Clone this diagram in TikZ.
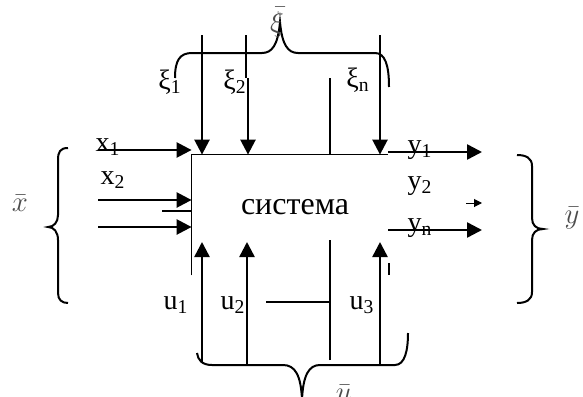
\documentclass[tikz,border=0pt]{standalone}
\usepackage{fontspec}
\setmainfont{Liberation Serif}
\usetikzlibrary{arrows.meta}
\begin{document}
\begin{tikzpicture}[x=0.5pt, y=-0.5pt,
   every node/.style={font=\fontsize{14}{16}\selectfont, inner sep=0pt},
   sig/.style={line width=1.25pt, -{Triangle[length=7.5pt,width=7.5pt]}},
   edge line/.style={line width=0.75pt},
   brace line/.style={line width=1pt},
   vec label/.style={font=\fontsize{15}{17}\selectfont, text=black!70}]
\useasboundingbox (0,0) rectangle (583,396);
\node[minimum width=98pt, minimum height=60pt] (sys) at (290,215) {};
\node[font=\fontsize{16}{18}\selectfont] (name) at (295,207) {система};
\draw[edge line] (sys.south west) -- (sys.north west) -- (sys.north east);
\coordinate (xi1) at (202,35);
\coordinate (xi2) at (248,78);
\coordinate (xin) at (380,35);
\coordinate (vt) at (330,78);
\draw[sig] (xi1) -- (xi1 |- sys.north);
\draw[sig] (xi2) -- (xi2 |- sys.north);
\draw[sig] (xin) -- (xin |- sys.north);
\draw[edge line] (246,35) -- (xi2 -| 246,0);
\draw[line width=1pt] (vt) -- (vt |- sys.north);
\coordinate (x1) at (98,150);
\coordinate (x2) at (98,200);
\coordinate (x3) at (98,227);
\coordinate (xs) at (162,211);
\draw[sig] (x1) -- (x1 -| sys.west);
\draw[sig] (x2) -- (x2 -| sys.west);
\draw[sig] (x3) -- (x3 -| sys.west);
\draw[edge line] (xs) -- (xs -| sys.west);
\coordinate (y1) at (482,152);
\coordinate (y2) at (482,203);
\coordinate (yn) at (482,230);
\draw[sig] (y1 -| sys.east) -- (y1);
\draw[sig] (yn -| sys.east) -- (yn);
\draw[line width=0.5pt, -{Triangle[length=4pt,width=4pt]}] ([xshift=-8pt]y2) -- (y2);
\coordinate (u1) at (202,363);
\coordinate (u2) at (247,365);
\coordinate (u3) at (380,365);
\coordinate (vb) at (330,360);
\coordinate (hb) at (266,302);
\draw[sig] (u1) -- ++(0,-121);
\draw[sig] (u2) -- ++(0,-123);
\draw[sig] (u3) -- ++(0,-123);
\draw[line width=1pt] (vb) -- ++(0,-120);
\draw[line width=1pt] (hb) -- (hb -| vb);
\draw[line width=1.2pt] (389,263) -- (389,275);
\draw[brace line] (175,78) .. controls (175,60) and (180,53) .. (192,53) -- (262,53)
   .. controls (272,53) and (278,45) .. (280,22) .. controls (282,45) and (288,53) .. (298,53)
   -- (375,53) .. controls (385,53) and (389,65) .. (389,87);
\draw[brace line] (68,148) .. controls (60,148) and (58,152) .. (58,160) -- (58,215)
   .. controls (58,222) and (54,227) .. (48,227) .. controls (54,227) and (58,232) .. (58,240)
   -- (58,293) .. controls (58,300) and (62,303) .. (68,303);
\draw[brace line] (517,155) .. controls (526,155) and (532,158) .. (532,166) -- (532,218)
   .. controls (532,225) and (536,229) .. (543,229) .. controls (536,229) and (532,233) .. (532,240)
   -- (532,292) .. controls (532,300) and (526,303) .. (517,303);
\draw[brace line] (197,353) .. controls (198,360) and (202,365) .. (212,365) -- (283,365)
   .. controls (295,365) and (301,375) .. (302,400) .. controls (303,375) and (309,365) .. (320,365)
   -- (395,365) .. controls (405,365) and (408,350) .. (408,333);
\node (lx1) at (108,147) {x\textsubscript{1}};
\node (lx2) at (113,180) {x\textsubscript{2}};
\node (ly1) at (420,150) {y\textsubscript{1}};
\node (ly2) at (420,186) {y\textsubscript{2}};
\node (lyn) at (420,228) {y\textsubscript{n}};
\node (lu1) at (176,305) {u\textsubscript{1}};
\node (lu2) at (233,305) {u\textsubscript{2}};
\node (lu3) at (362,305) {u\textsubscript{3}};
\node (lxi1) at (170,82) {ξ\textsubscript{1}};
\node (lxi2) at (235,82) {ξ\textsubscript{2}};
\node (lxin) at (358,80) {ξ\textsubscript{n}};
\node[vec label] (xib) at (277,22) {$\bar{\xi}$};
\node[vec label] (xb) at (20,203) {$\bar{x}$};
\node[vec label] (yb) at (572,218) {$\bar{y}$};
\node[vec label, anchor=north] (ub) at (344,385) {$\bar{u}$};
\end{tikzpicture}
\end{document}
